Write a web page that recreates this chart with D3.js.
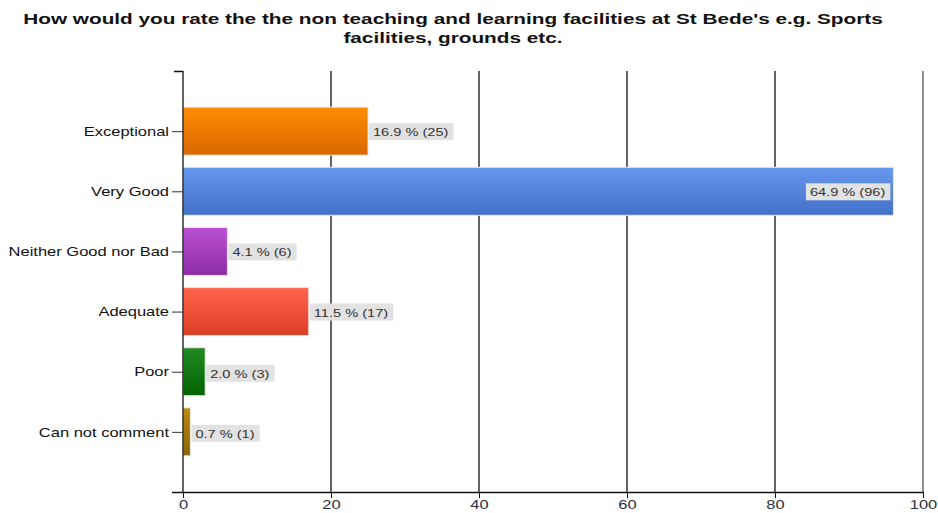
<!DOCTYPE html>
<html>
<head>
<meta charset="utf-8">
<script src="https://cdn.jsdelivr.net/npm/d3@7"></script>
<style>
body { margin: 0; background: white; }
text { font-family: Arial, "Liberation Sans", sans-serif; }
</style>
</head>
<body>
<div id="container"></div>
<script>
var w = 938, h = 513;

var categories = ["Exceptional", "Very Good", "Neither Good nor Bad", "Adequate", "Poor", "Can not comment"];
var counts = [25, 96, 6, 17, 3, 1];
var percents = ["16.9", "64.9", "4.1", "11.5", "2.0", "0.7"];
var xTicks = [0, 20, 40, 60, 80, 100];
var colorsTop = ["#ff8c00", "#6899ee", "#bb50d4", "#ff6349", "#238b23", "#bb8a0f"];
var colorsBottom = ["#d96800", "#4370c8", "#8c2ca6", "#dc3f26", "#006200", "#8b6406"];

// the original picture is stretched sideways, so text gets a horizontal scale
var kx = 1.27;
function stretch(sel, k) {
  sel.attr("transform", function() {
    var ax = +d3.select(this).attr("x") || 0;
    return "translate(" + ax + ",0) scale(" + k + ",1) translate(" + (-ax) + ",0)";
  });
}

var svg = d3.select("div#container").append("svg")
    .attr("width", w).attr("height", h)
    .style("background-color", "white");

var x = d3.scaleLinear().domain([0, 100]).range([183, 923]);
var y = d3.scalePoint().domain(categories).range([71, 492]).padding(1);
var barH = 48;

var defs = svg.append("defs");
categories.forEach(function(c, i) {
  var g = defs.append("linearGradient").attr("id", "grad" + i)
      .attr("x1", 0).attr("y1", 0).attr("x2", 0).attr("y2", 1);
  g.append("stop").attr("offset", "0%").attr("stop-color", colorsTop[i]);
  g.append("stop").attr("offset", "100%").attr("stop-color", colorsBottom[i]);
});

// title
var t1 = svg.append("text").attr("x", 453).attr("y", 24).attr("text-anchor", "middle")
  .attr("font-size", 15.5).attr("font-weight", "bold").attr("fill", "#111")
  .text("How would you rate the the non teaching and learning facilities at St Bede's e.g. Sports");
var t2 = svg.append("text").attr("x", 453).attr("y", 43).attr("text-anchor", "middle")
  .attr("font-size", 15.5).attr("font-weight", "bold").attr("fill", "#111")
  .text("facilities, grounds etc.");
stretch(t1, 1.34);
stretch(t2, 1.34);

// vertical grid lines
svg.append("g").selectAll("line")
  .data(xTicks.slice(1))
  .enter().append("line")
  .attr("x1", function(d) { return x(d); }).attr("x2", function(d) { return x(d); })
  .attr("y1", 71).attr("y2", 492)
  .attr("stroke", function(d) { return d == 100 ? "#555" : "#111"; })
  .attr("stroke-width", 1.3);

// bars
var rows = categories.map(function(c, i) { return {cat: c, n: counts[i], p: percents[i], i: i}; });
svg.append("g").selectAll("rect")
  .data(rows)
  .enter().append("rect")
  .attr("x", x(0))
  .attr("y", function(d) { return y(d.cat) - barH / 2; })
  .attr("width", function(d) { return x(d.n) - x(0); })
  .attr("height", barH)
  .attr("fill", function(d) { return "url(#grad" + d.i + ")"; })
  .attr("stroke", "#e8e8e8").attr("stroke-width", 1);

// value labels
var lab = svg.append("g").selectAll("g")
  .data(rows)
  .enter().append("g");
lab.each(function(d) {
  var gg = d3.select(this);
  var t = gg.append("text")
    .attr("font-size", 11.5).attr("fill", "#333")
    .attr("dy", "0.35em")
    .text(d.p + " % (" + d.n + ")");
  var tw = t.node().getComputedTextLength() * kx;
  var inside = x(d.n) + tw + 12 > x(100);
  var bx = inside ? x(d.n) - tw - 12 : x(d.n) + 1;
  var by = y(d.cat) + (d.i >= 4 ? 1 : 0);
  gg.insert("rect", "text")
    .attr("x", bx).attr("y", by - 8).attr("width", tw + 9).attr("height", 17)
    .attr("fill", "#e2e2e2");
  t.attr("x", bx + 4).attr("y", by + 1);
  stretch(t, kx);
});

// y axis
var yAxis = svg.append("g").attr("transform", "translate(" + x(0) + ",0)")
  .call(d3.axisLeft(y).tickSize(11).tickPadding(3).tickSizeOuter(0));
yAxis.select(".domain").attr("stroke", "#111").attr("stroke-width", 1.3)
  .attr("d", "M-9,71.5H0V492");
yAxis.selectAll(".tick line").attr("stroke", "#333");
yAxis.selectAll("text").attr("font-size", 13).attr("fill", "#111")
  .style("font-family", "Arial, 'Liberation Sans', sans-serif");
stretch(yAxis.selectAll("text"), kx);

// x axis
var xAxis = svg.append("g").attr("transform", "translate(0,492)")
  .call(d3.axisBottom(x).tickValues(xTicks).tickSize(6).tickPadding(2).tickSizeOuter(0));
xAxis.select(".domain").attr("stroke", "#111").attr("stroke-width", 1.3)
  .attr("d", "M172,0.5H" + x(100));
xAxis.selectAll(".tick line").attr("stroke", "#111");
xAxis.selectAll("text").attr("font-size", 13).attr("fill", "#2a3140")
  .style("font-family", "Arial, 'Liberation Sans', sans-serif");
stretch(xAxis.selectAll("text"), kx);
</script>
</body>
</html>
